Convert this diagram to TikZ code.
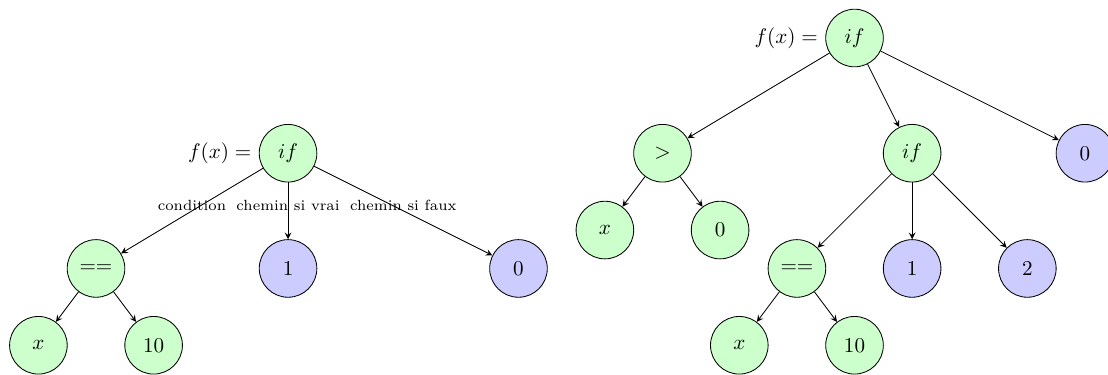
\documentclass[tikz,border=0pt]{standalone}
\usepackage{amsmath}

\begin{document}
\begin{tikzpicture}[x=0.64cm, y=0.64cm, >=stealth]
	\useasboundingbox (0, 0) rectangle (28.85, 9.74);
	\tikzstyle{op}=[circle, draw, fill=green!20, minimum size=0.96cm, inner sep=1pt]
	\tikzstyle{val}=[circle, draw, fill=blue!20, minimum size=0.96cm, inner sep=1pt]
	\tikzstyle{lbl}=[midway, anchor=base, font=\scriptsize]
			\begin{scope}
				\node[op, label={left:$f(x) =$}] (if1) at (7.5, 5.75) {$if$};
				\node[op] (eq1) at (2.5, 2.75) {$==$};
				\node[op] (x1) at (1, 0.75) {$x$};
				\node[op] (ten1) at (4, 0.75) {$10$};
				\node[val] (one1) at (7.5, 2.75) {$1$};
				\node[val] (zero1) at (13.5, 2.75) {$0$};
			
				\draw[->]  (if1) to node[lbl] {condition} (eq1);
				\draw[->]  (if1) to node[lbl] {chemin si vrai} (one1);
				\draw[->]  (if1) to node[lbl] {chemin si faux} (zero1);
				\draw[->]  (eq1) to (x1);
				\draw[->]  (eq1) to (ten1);
			\end{scope}
			\begin{scope}
				\node[op, label={left:$f(x) =$}] (if2) at (22.25, 8.75) {$if$};
				\node[op] (gt2) at (17.25, 5.75) {$>$};
				\node[op] (x2) at (15.75, 3.75) {$x$};
				\node[op] (zero2) at (18.75, 3.75) {$0$};
				\node[op] (if3) at (23.75, 5.75) {$if$};
				\node[val] (zero3) at (28.25, 5.75) {$0$};
				\node[op] (eq3) at (20.75, 2.75) {$==$};
				\node[val] (one3) at (23.75, 2.75) {$1$};
				\node[val] (two3) at (26.75, 2.75) {$2$};
				\node[op] (x3) at (19.25, 0.75) {$x$};
				\node[op] (ten3) at (22.25, 0.75) {$10$};
			
				\draw[->]  (if2) to (gt2);
				\draw[->]  (if2) to (if3);
				\draw[->]  (if2) to (zero3);
				\draw[->]  (gt2) to (x2);
				\draw[->]  (gt2) to (zero2);
				\draw[->]  (if3) to (eq3);
				\draw[->]  (if3) to (one3);
				\draw[->]  (if3) to (two3);
				\draw[->]  (eq3) to (x3);
				\draw[->]  (eq3) to (ten3);
			\end{scope}
\end{tikzpicture}
\end{document}
